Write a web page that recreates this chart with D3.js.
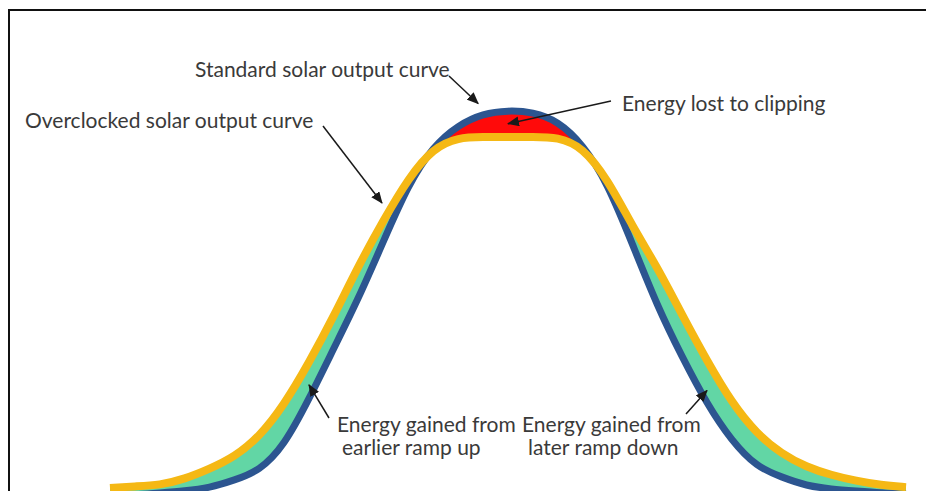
<!DOCTYPE html>
<html>
<head>
<meta charset="utf-8">
<script src="https://cdn.jsdelivr.net/npm/d3@7"></script>
<style>
  html, body { margin: 0; padding: 0; background: #fff; }
  svg { display: block; }
</style>
</head>
<body>
<svg id="chart"></svg>
<script>
// hour of day for each sample
const hours = [4, 4.5, 5, 5.5, 6, 6.5, 7, 7.5, 8, 8.5, 9, 9.5, 10, 10.5, 11, 11.5, 12,
  12.5, 13, 13.5, 14, 14.5, 15, 15.5, 16, 16.5, 17, 17.5, 18, 18.5, 19, 19.5, 20];

// output, % of the standard peak
const standard = [0, 0.3, 0.8, 1.3, 2.1, 4.1, 6.5, 13.0, 25.1, 38.3, 51.3, 66.1, 80.8, 90.7, 96.1, 99.1, 99.9,
  99.5, 97.2, 91.2, 81.1, 65.3, 49.2, 36.0, 23.8, 14.2, 7.5, 4.9, 2.6, 1.8, 1.3, 0.8, 0.5];

const overclocked = [2.1, 2.5, 2.8, 4.4, 7.0, 10.1, 15.3, 23.6, 34.5, 46.6, 59.8, 71.5, 82.4, 90.2, 92.9, 93.0, 93.0,
  93.0, 93.0, 90.4, 82.1, 69.9, 59.3, 46.9, 35.0, 24.1, 16.1, 10.9, 7.5, 5.4, 3.9, 2.8, 2.3];

const labelStandard = 'Standard solar output curve';
const labelOverclocked = 'Overclocked solar output curve';
const labelClipping = 'Energy lost to clipping';
const labelEarlier = ['Energy gained from', 'earlier ramp up'];
const labelLater = ['Energy gained from', 'later ramp down'];

const width = 926;
const height = 491;

const svg = d3.select('#chart')
  .attr('width', width)
  .attr('height', height);

const x = d3.scaleLinear().domain([4, 20]).range([110, 906]);
const y = d3.scaleLinear().domain([0, 100]).range([496, 110]);

const data = hours.map((h, i) => ({ h, s: standard[i], o: overclocked[i] }));

const curve = d3.curveBasis;

const between = d3.area()
  .x((d) => x(d.h))
  .y0((d) => y(d.s))
  .y1((d) => y(d.o))
  .curve(curve);

const aboveOver = d3.area()
  .x((d) => x(d.h))
  .y0(0)
  .y1((d) => y(d.o))
  .curve(curve);

const lineS = d3.line().x((d) => x(d.h)).y((d) => y(d.s)).curve(curve);
const lineO = d3.line().x((d) => x(d.h)).y((d) => y(d.o)).curve(curve);

const defs = svg.append('defs');
defs.append('clipPath')
  .attr('id', 'above-over')
  .append('path')
  .attr('d', aboveOver(data));

defs.append('marker')
  .attr('id', 'arrow')
  .attr('markerUnits', 'userSpaceOnUse')
  .attr('markerWidth', 12)
  .attr('markerHeight', 10)
  .attr('refX', 11)
  .attr('refY', 5)
  .attr('orient', 'auto')
  .append('path')
  .attr('d', 'M0,0 L12,5 L0,10 Z')
  .attr('fill', '#1a1a1a');

// frame (top and left edges only are visible)
svg.append('path')
  .attr('d', `M9,${height} V10 H${width}`)
  .attr('fill', 'none')
  .attr('stroke', '#111')
  .attr('stroke-width', 2);

// gained energy (green) and clipped energy (red)
svg.append('path')
  .attr('d', between(data))
  .attr('fill', '#62d6a5');

svg.append('path')
  .attr('d', between(data))
  .attr('fill', '#ff0a0a')
  .attr('clip-path', 'url(#above-over)');

svg.append('path')
  .attr('d', lineS(data))
  .attr('fill', 'none')
  .attr('stroke', '#2c5590')
  .attr('stroke-width', 7);

svg.append('path')
  .attr('d', lineO(data))
  .attr('fill', 'none')
  .attr('stroke', '#f5b814')
  .attr('stroke-width', 8);

// annotations
const font = 'Lato, "Open Sans", sans-serif';
const txt = (s, tx, ty) => svg.append('text')
  .attr('x', tx)
  .attr('y', ty)
  .attr('font-family', font)
  .attr('font-size', 21)
  .attr('fill', '#3a3a3a')
  .text(s);

txt(labelStandard, 195, 77);
txt(labelOverclocked, 25, 128);
txt(labelClipping, 622, 111);
labelEarlier.forEach((s, i) => txt(s, i ? 342 : 337, 432 + i * 23));
labelLater.forEach((s, i) => txt(s, i ? 528 : 522, 432 + i * 23));

const mid = (h) => {
  const i = hours.indexOf(h);
  return y((standard[i] + overclocked[i]) / 2);
};

const arrows = [
  [[449, 76], [x(11.4), y(standard[15]) - 10]],
  [[611, 101], [x(12), mid(12)]],
  [[323, 126], [382, 203]],
  [[329, 418], [x(8), mid(8) + 4]],
  [[686, 414], [x(16), mid(16) + 8]]
];

svg.selectAll('.arrow')
  .data(arrows)
  .join('line')
  .attr('class', 'arrow')
  .attr('x1', (d) => d[0][0])
  .attr('y1', (d) => d[0][1])
  .attr('x2', (d) => d[1][0])
  .attr('y2', (d) => d[1][1])
  .attr('stroke', '#1a1a1a')
  .attr('stroke-width', 1.5)
  .attr('marker-end', 'url(#arrow)');
</script>
</body>
</html>
